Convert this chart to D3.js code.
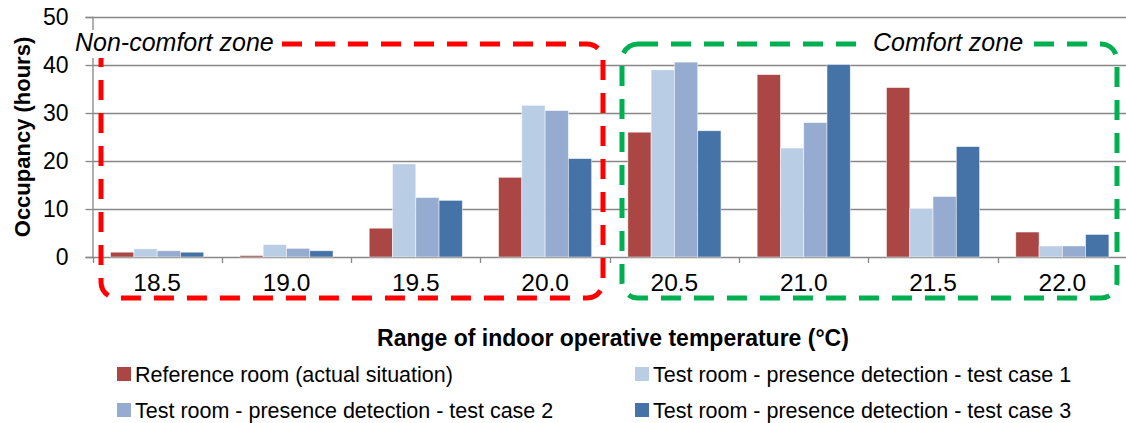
<!DOCTYPE html>
<html>
<head>
<meta charset="utf-8">
<script src="https://cdn.jsdelivr.net/npm/d3@7"></script>
<style>
  body { margin: 0; background: #fff; }
  svg { font-family: 'Liberation Sans', sans-serif; }
</style>
</head>
<body>
<svg width="1126" height="423"></svg>
<script>
// chart data
var categories = ['18.5', '19.0', '19.5', '20.0', '20.5', '21.0', '21.5', '22.0']
var seriesNames = [
  'Reference room (actual situation)',
  'Test room - presence detection - test case 1',
  'Test room - presence detection - test case 2',
  'Test room - presence detection - test case 3'
]
var reference = [1.0, 0.3, 6.0, 16.6, 26.0, 38.0, 35.3, 5.2]
var testCase1 = [1.7, 2.6, 19.4, 31.6, 39.0, 22.7, 10.1, 2.3]
var testCase2 = [1.3, 1.8, 12.4, 30.5, 40.6, 28.0, 12.6, 2.3]
var testCase3 = [1.0, 1.3, 11.8, 20.5, 26.3, 40.1, 23.0, 4.7]
var yTicks = [0, 10, 20, 30, 40, 50]
var colors = ['#AA4643', '#B9CDE5', '#95ABD0', '#4572A7']

var series = [reference, testCase1, testCase2, testCase3]

var svg = d3.select('svg')

var x = d3.scaleBand().domain(categories).range([92.5, 1127]).paddingInner(0.28).paddingOuter(0.14)
var xOuter = d3.scaleBand().domain(categories).range([92.5, 1127])
var xSub = d3.scaleBand().domain(d3.range(4)).range([0, x.bandwidth()])
var y = d3.scaleLinear().domain([0, 50]).range([257, 17])

// gridlines
svg.append('g')
  .selectAll('line')
  .data(yTicks)
  .enter()
  .append('line')
  .attr('x1', 92.5)
  .attr('x2', 1126)
  .attr('y1', (d) => Math.round(y(d)) + 0.5)
  .attr('y2', (d) => Math.round(y(d)) + 0.5)
  .style('stroke', '#878787')
  .style('stroke-width', 1.3)

// y axis
var yAxis = svg.append('g')
  .attr('transform', 'translate(92.5,0)')
  .call(d3.axisLeft(y).tickValues(yTicks).tickSize(7).tickPadding(17))
yAxis.selectAll('path, line').style('stroke', '#878787').style('stroke-width', 1.3)
yAxis.selectAll('text').style('font-size', '23px').style('fill', '#000').style('font-family', 'inherit')

// x axis ticks at category boundaries
svg.append('g')
  .selectAll('line')
  .data(categories.concat(['end']))
  .enter()
  .append('line')
  .attr('x1', (d, i) => Math.round(92.5 + i * xOuter.bandwidth()) + 0.5)
  .attr('x2', (d, i) => Math.round(92.5 + i * xOuter.bandwidth()) + 0.5)
  .attr('y1', 257)
  .attr('y2', 263)
  .style('stroke', '#878787')
  .style('stroke-width', 1.3)

svg.append('g')
  .selectAll('text')
  .data(categories)
  .enter()
  .append('text')
  .attr('x', (d) => xOuter(d) + xOuter.bandwidth() / 2)
  .attr('y', 291)
  .attr('text-anchor', 'middle')
  .style('font-size', '24.5px')
  .text((d) => d)

// bars
var groups = svg.append('g')
  .selectAll('g')
  .data(series)
  .enter()
  .append('g')
  .style('fill', (d, i) => colors[i])

groups.selectAll('rect')
  .data((d, i) => d.map((v, j) => ({ v: v, cat: categories[j], s: i })))
  .enter()
  .append('rect')
  .attr('x', (d) => x(d.cat) + xSub(d.s))
  .attr('width', xSub.bandwidth())
  .attr('y', (d) => y(d.v))
  .attr('height', (d) => y(0) - y(d.v))
  .style('stroke', '#fff')
  .style('stroke-opacity', 0.6)
  .style('stroke-width', 0.8)

// zone boxes, label sits on a white patch over the top dashes
function zone (x0, x1, col, label, lx) {
  svg.append('rect')
    .attr('x', x0)
    .attr('y', 44)
    .attr('width', x1 - x0)
    .attr('height', 254)
    .attr('rx', 16)
    .style('fill', 'none')
    .style('stroke', col)
    .style('stroke-width', 5)
    .style('stroke-dasharray', '20,13')
  var bg = svg.append('rect').style('fill', '#fff')
  var t = svg.append('text')
    .attr('x', lx)
    .attr('y', 51)
    .style('font-size', '25px')
    .style('font-style', 'italic')
    .text(label)
  var w = t.node().getComputedTextLength()
  bg.attr('x', lx - 4).attr('y', 30).attr('width', w + 10).attr('height', 28)
}
zone(101, 603, '#FF0000', 'Non-comfort zone', 75)
zone(622, 1117, '#00B050', 'Comfort zone', 873)

// axis titles
svg.append('text')
  .attr('x', 613)
  .attr('y', 346)
  .attr('text-anchor', 'middle')
  .style('font-size', '23px')
  .style('font-weight', 'bold')
  .text('Range of indoor operative temperature (°C)')

svg.append('text')
  .attr('transform', 'translate(30,137) rotate(-90)')
  .attr('text-anchor', 'middle')
  .style('font-size', '22px')
  .style('font-weight', 'bold')
  .text('Occupancy (hours)')

// legend
var legendPos = [[117, 374], [635, 374], [117, 410], [635, 410]]
var legend = svg.append('g')
  .selectAll('g')
  .data(seriesNames)
  .enter()
  .append('g')
  .attr('transform', (d, i) => 'translate(' + legendPos[i][0] + ',' + legendPos[i][1] + ')')
legend.append('rect')
  .attr('x', 0)
  .attr('y', -7)
  .attr('width', 14)
  .attr('height', 14)
  .style('fill', (d, i) => colors[i])
legend.append('text')
  .attr('x', 18)
  .attr('y', 7.5)
  .style('font-size', '21.5px')
  .text((d) => d)
</script>
</body>
</html>
